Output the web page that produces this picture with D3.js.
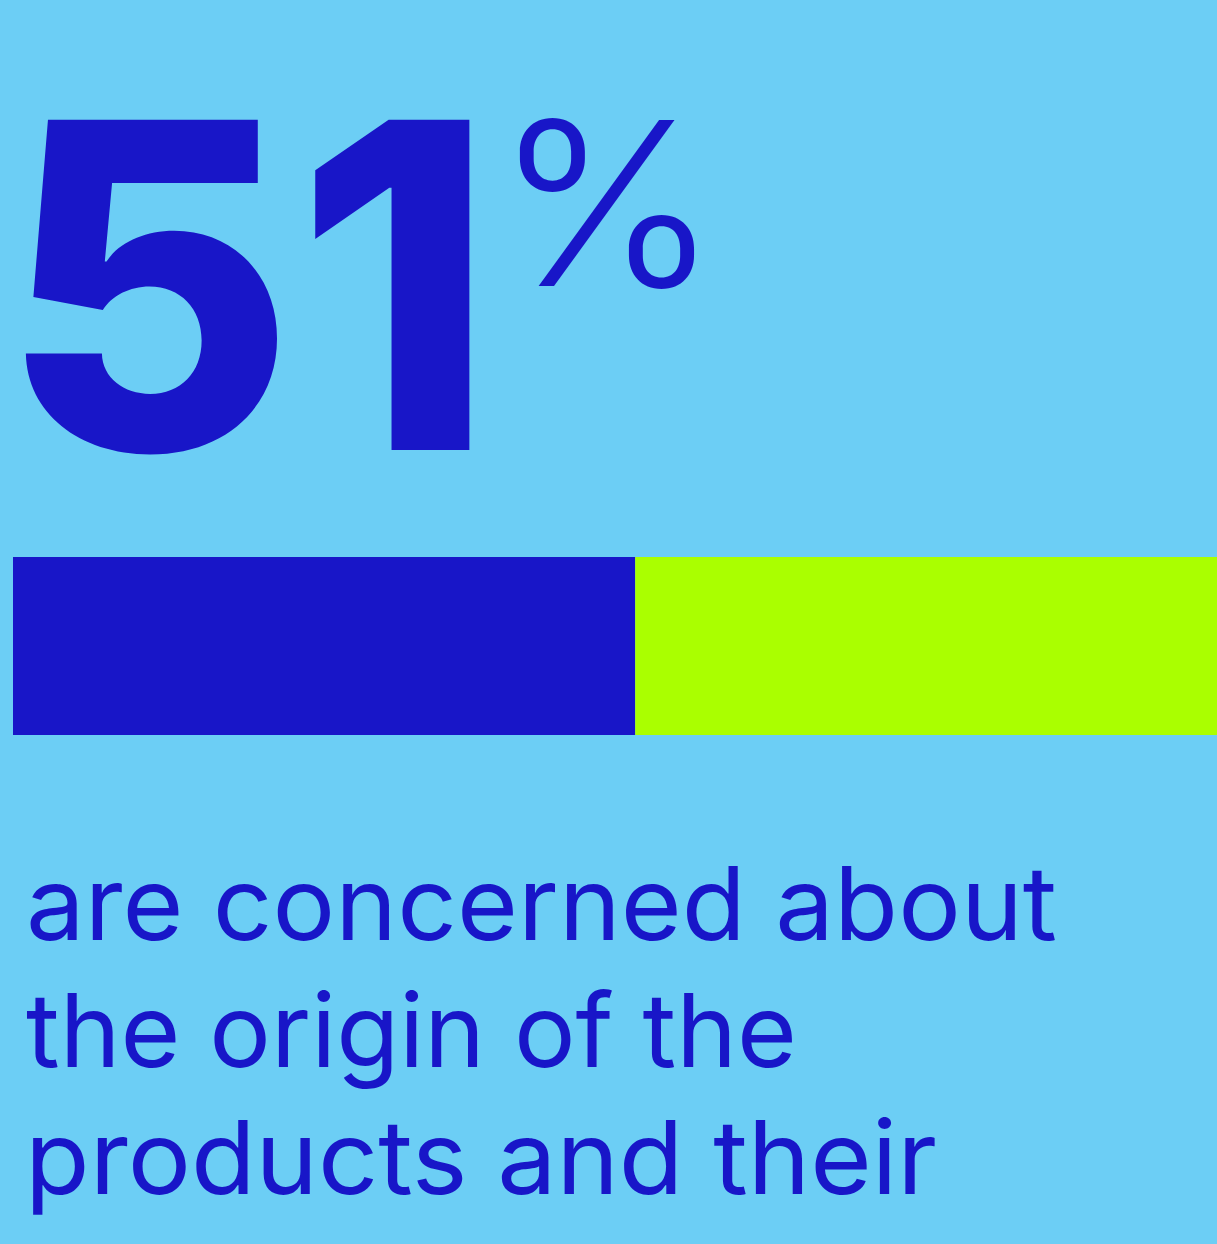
<!DOCTYPE html>
<html>
<head>
<meta charset="utf-8">
<script src="https://cdn.jsdelivr.net/npm/d3@7"></script>
<style>
  html, body { margin: 0; padding: 0; background: #6ccef5; overflow: hidden; }
</style>
</head>
<body>
<script>
// share of respondents, and the remainder
var segments = ["concerned", "rest"];
var values = [51, 49];
var headline = "51";
var headlineUnit = "%";
var caption = ["are concerned about", "the origin of the", "products and their"];

var width = 1217, height = 1244;
var blue = "#1816c8", lime = "#aaff00", bg = "#6ccef5";

var svg = d3.select("body").append("svg")
    .attr("width", width)
    .attr("height", height)
    .style("display", "block");

svg.append("rect").attr("width", width).attr("height", height).attr("fill", bg);

// bar runs past the right edge a little, like the cropped original
var x = d3.scaleLinear().domain([0, 100]).range([13, 1233]);
var stack = [];
var acc = 0;
values.forEach(function(v, i){
    stack.push({key: segments[i], x0: acc, x1: acc + v});
    acc += v;
});

svg.selectAll("rect.seg")
    .data(stack)
  .enter().append("rect")
    .attr("class", "seg")
    .attr("x", function(d){ return x(d.x0); })
    .attr("width", function(d){ return x(d.x1) - x(d.x0); })
    .attr("y", 557)
    .attr("height", 178)
    .attr("fill", function(d, i){ return i === 0 ? blue : lime; });

// big number
svg.append("text")
    .attr("x", 0)
    .attr("y", 450)
    .attr("font-family", "Inter, 'Noto Sans', sans-serif")
    .attr("font-weight", 800)
    .attr("font-size", 454)
    .attr("textLength", 495)
    .attr("lengthAdjust", "spacingAndGlyphs")
    .attr("fill", blue)
    .text(headline);

svg.append("text")
    .attr("x", 494)
    .attr("y", 286)
    .attr("font-family", "Inter, 'Noto Sans', sans-serif")
    .attr("font-weight", 300)
    .attr("font-size", 228)
    .attr("textLength", 226)
    .attr("lengthAdjust", "spacingAndGlyphs")
    .attr("fill", blue)
    .text(headlineUnit);

// caption lines
var lineWidths = [1031, 771, 912];
svg.selectAll("text.cap")
    .data(caption)
  .enter().append("text")
    .attr("class", "cap")
    .attr("x", function(d, i){ return i === 2 ? 25 : 26; })
    .attr("y", function(d, i){ return 940 + i * 127; })
    .attr("font-family", "Inter, 'Noto Sans', sans-serif")
    .attr("font-weight", 400)
    .attr("font-size", 102)
    .attr("textLength", function(d, i){ return lineWidths[i]; })
    .attr("lengthAdjust", "spacingAndGlyphs")
    .attr("fill", blue)
    .text(function(d){ return d; });
</script>
</body>
</html>
